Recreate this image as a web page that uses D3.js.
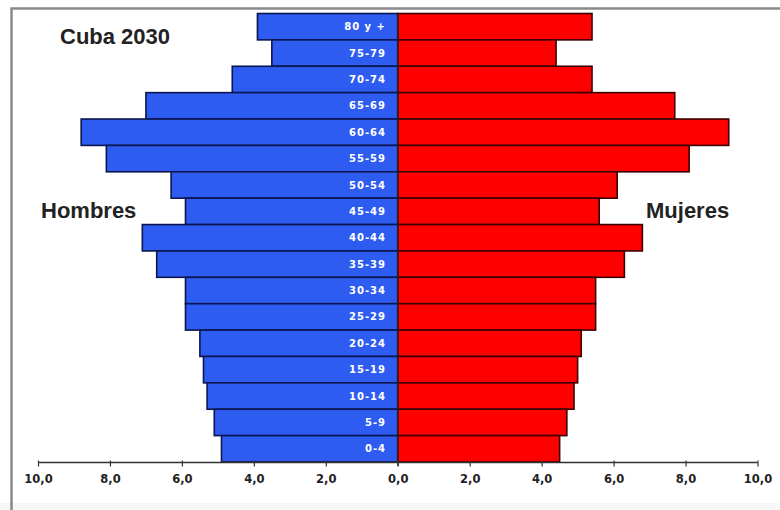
<!DOCTYPE html>
<html>
<head>
<meta charset="utf-8">
<script src="https://cdn.jsdelivr.net/npm/d3@7/dist/d3.min.js"></script>
<style>
  html, body { margin: 0; padding: 0; background: #fff; }
  svg { display: block; }
</style>
</head>
<body>
<svg id="chart" width="780" height="510"></svg>
<script>
// Age groups, top to bottom
const ageGroups = ["80 y +", "75-79", "70-74", "65-69", "60-64", "55-59", "50-54", "45-49",
                   "40-44", "35-39", "30-34", "25-29", "20-24", "15-19", "10-14", "5-9", "0-4"];
// Percent of population (Hombres = men, Mujeres = women)
const hombres = [3.9, 3.5, 4.6, 7.0, 8.8, 8.1, 6.3, 5.9, 7.1, 6.7, 5.9, 5.9, 5.5, 5.4, 5.3, 5.1, 4.9];
const mujeres = [5.4, 4.4, 5.4, 7.7, 9.2, 8.1, 6.1, 5.6, 6.8, 6.3, 5.5, 5.5, 5.1, 5.0, 4.9, 4.7, 4.5];
const tickValues = [-10, -8, -6, -4, -2, 0, 2, 4, 6, 8, 10];
const title = "Cuba 2030";
const leftLabel = "Hombres";
const rightLabel = "Mujeres";

const svg = d3.select("#chart");

// frame
svg.append("rect").attr("x", 0).attr("y", 503).attr("width", 780).attr("height", 7).attr("fill", "#f7f7f7");
svg.append("path")
  .attr("d", "M11.5,510 L11.5,8.5 L780,8.5")
  .attr("fill", "none").attr("stroke", "#8a8a8a").attr("stroke-width", 2.5);

const x = d3.scaleLinear().domain([-10, 10]).range([38, 757.5]);
const y = d3.scaleBand().domain(ageGroups).range([13.5, 462]).padding(0);

const rows = ageGroups.map((a, i) => ({ age: a, m: hombres[i], f: mujeres[i] }));

// male bars
svg.append("g").selectAll("rect").data(rows).join("rect")
  .attr("x", d => x(-d.m))
  .attr("y", d => y(d.age))
  .attr("width", d => x(0) - x(-d.m))
  .attr("height", y.bandwidth())
  .attr("fill", "#2f5cf0")
  .attr("stroke", "#0b1650")
  .attr("stroke-width", 1.6);

// female bars
svg.append("g").selectAll("rect").data(rows).join("rect")
  .attr("x", x(0))
  .attr("y", d => y(d.age))
  .attr("width", d => x(d.f) - x(0))
  .attr("height", y.bandwidth())
  .attr("fill", "#ff0000")
  .attr("stroke", "#3c0000")
  .attr("stroke-width", 1.6);

// center line
svg.append("line")
  .attr("x1", x(0)).attr("x2", x(0))
  .attr("y1", y.range()[0]).attr("y2", y.range()[1] + 4)
  .attr("stroke", "#222").attr("stroke-width", 1.2);

// age labels
svg.append("g").selectAll("text").data(rows).join("text")
  .attr("x", 386)
  .attr("y", d => y(d.age) + y.bandwidth() / 2)
  .attr("dy", "0.36em")
  .attr("text-anchor", "end")
  .attr("fill", "#ffffff")
  .attr("font-family", "DejaVu Sans, sans-serif")
  .attr("font-weight", "bold")
  .attr("font-size", 10)
  .attr("letter-spacing", 1)
  .text(d => d.age);

// axis
const axis = d3.axisBottom(x)
  .tickValues(tickValues)
  .tickSize(4)
  .tickPadding(8)
  .tickFormat(d => Math.abs(d).toFixed(1).replace(".", ","));
const gAxis = svg.append("g").attr("transform", "translate(0,462.5)").call(axis);
gAxis.select(".domain").attr("stroke", "#333").attr("stroke-width", 1.3).attr("d", `M${x(-10)},0H${x(10)}`);
gAxis.selectAll(".tick line").attr("stroke", "#333").attr("stroke-width", 1.2).attr("y1", -2);
gAxis.selectAll(".tick text")
  .attr("fill", "#222")
  .attr("font-family", "DejaVu Sans, sans-serif")
  .attr("font-weight", "bold")
  .attr("font-size", 11.5);

// titles
const tStyle = sel => sel.attr("font-family", "Liberation Sans, Arial, sans-serif")
  .attr("font-weight", "bold").attr("font-size", 22).attr("fill", "#222");
svg.append("text").attr("x", 60).attr("y", 43.5).text(title).call(tStyle);
svg.append("text").attr("x", 41).attr("y", 217.5).text(leftLabel).call(tStyle);
svg.append("text").attr("x", 646).attr("y", 217.5).text(rightLabel).call(tStyle);
</script>
</body>
</html>
